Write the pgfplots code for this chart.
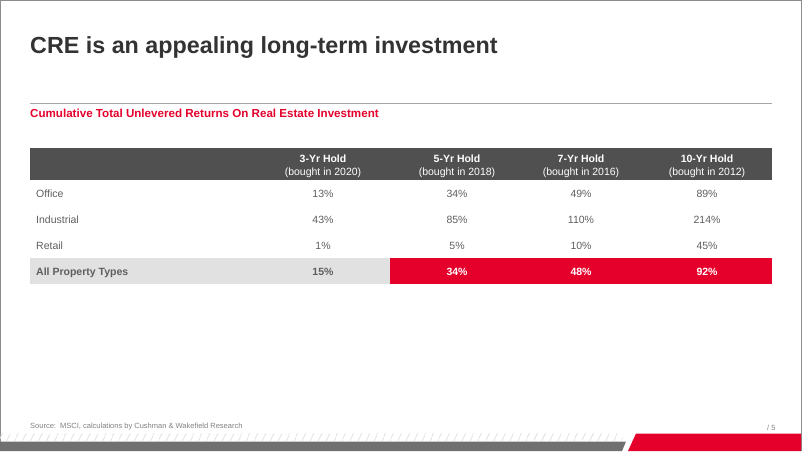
\documentclass[border=0pt]{standalone}
\usepackage{fontspec}
\setmainfont{Liberation Sans}
\usepackage{pgfplots}
\pgfplotsset{compat=1.18}
\usetikzlibrary{patterns.meta}
\definecolor{cwred}{HTML}{E4002B}
\definecolor{hdr}{HTML}{505050}
\definecolor{rowgray}{HTML}{E1E1E1}
\definecolor{txt}{HTML}{5E5E5E}
\definecolor{ttl}{HTML}{333333}
\definecolor{framec}{HTML}{8C8C8C}
\definecolor{footgray}{HTML}{707070}
\newcommand{\bodyfont}{\fontsize{10.5}{12}\selectfont}
\begin{document}
\begin{tikzpicture}
\begin{axis}[name=ax, width=802pt, height=451pt, scale only axis,
  xmin=0, xmax=802, ymin=0, ymax=451, y dir=reverse, hide axis, clip=false,
  /pgf/number format/assume math mode=true]
% slide frame
\addplot[draw=framec, line width=1pt, mark=none] coordinates {(0.5,451) (0.5,0.5) (801.5,0.5) (801.5,451)};
% rule under title
\addplot[draw=gray!70, line width=0.8pt, mark=none] coordinates {(30,103.3) (772,103.3)};
% header band
\addplot[fill=hdr, draw=none, mark=none] coordinates {(30,148) (772,148) (772,180) (30,180)} -- cycle;
% grey total row
\addplot[fill=rowgray, draw=none, mark=none] coordinates {(30,258) (390,258) (390,284) (30,284)} -- cycle;
% red total row
\addplot[fill=cwred, draw=none, mark=none] coordinates {(390,258) (772,258) (772,284) (390,284)} -- cycle;
% footer
\addplot[pattern={Lines[angle=65,distance=6.5pt,line width=0.9pt]}, pattern color=gray!25, draw=none, mark=none] coordinates {(0,433) (624,433) (622,441) (0,441)} -- cycle;
\addplot[fill=footgray, draw=none, mark=none] coordinates {(0,441.5) (626,441.5) (622,451) (0,451)} -- cycle;
\addplot[fill=cwred, draw=none, mark=none] coordinates {(636,433.5) (801,433.5) (801,451) (628,451)} -- cycle;

% table values (regular)
\addplot[draw=none, mark=none, point meta=explicit,
  nodes near coords={\pgfmathprintnumber[fixed,precision=0,assume math mode=true]{\pgfplotspointmeta}\%},
  nodes near coords style={anchor=base, font=\bodyfont, text=txt, inner sep=0pt}]
  table[meta=v] {
x y v
323 197 13
457 197 34
581 197 49
707 197 89
323 223 43
457 223 85
581 223 110
707 223 214
323 249 1
457 249 5
581 249 10
707 249 45
};
% total row
\addplot[draw=none, mark=none, point meta=explicit,
  nodes near coords={\pgfmathprintnumber[fixed,precision=0,assume math mode=true]{\pgfplotspointmeta}\%},
  nodes near coords style={anchor=base, font=\bodyfont\bfseries, text=txt, inner sep=0pt}]
  table[meta=v] {
x y v
323 275 15
};
\addplot[draw=none, mark=none, point meta=explicit,
  nodes near coords={\pgfmathprintnumber[fixed,precision=0,assume math mode=true]{\pgfplotspointmeta}\%},
  nodes near coords style={anchor=base, font=\bodyfont\bfseries, text=white, inner sep=0pt}]
  table[meta=v] {
x y v
457 275 34
581 275 48
707 275 92
};

% texts
\node[anchor=base west, inner sep=0pt, text=ttl, font=\fontsize{23.3}{27}\selectfont\bfseries] at (axis cs:30,53.5) {CRE is an appealing long-term investment};
\node[anchor=base west, inner sep=0pt, text=cwred, font=\fontsize{11.6}{14}\selectfont\bfseries] at (axis cs:30,117.3) {Cumulative Total Unlevered Returns On Real Estate Investment};
\node[anchor=base, inner sep=0pt, text=white, font=\bodyfont\bfseries] at (axis cs:323,162.5) {3-Yr Hold};
\node[anchor=base, inner sep=0pt, text=white, font=\bodyfont] at (axis cs:323,175) {(bought in 2020)};
\node[anchor=base, inner sep=0pt, text=white, font=\bodyfont\bfseries] at (axis cs:457,162.5) {5-Yr Hold};
\node[anchor=base, inner sep=0pt, text=white, font=\bodyfont] at (axis cs:457,175) {(bought in 2018)};
\node[anchor=base, inner sep=0pt, text=white, font=\bodyfont\bfseries] at (axis cs:581,162.5) {7-Yr Hold};
\node[anchor=base, inner sep=0pt, text=white, font=\bodyfont] at (axis cs:581,175) {(bought in 2016)};
\node[anchor=base, inner sep=0pt, text=white, font=\bodyfont\bfseries] at (axis cs:707,162.5) {10-Yr Hold};
\node[anchor=base, inner sep=0pt, text=white, font=\bodyfont] at (axis cs:707,175) {(bought in 2012)};
\node[anchor=base west, inner sep=0pt, text=txt, font=\bodyfont] at (axis cs:36,197) {Office};
\node[anchor=base west, inner sep=0pt, text=txt, font=\bodyfont] at (axis cs:36,223) {Industrial};
\node[anchor=base west, inner sep=0pt, text=txt, font=\bodyfont] at (axis cs:36,249) {Retail};
\node[anchor=base west, inner sep=0pt, text=txt, font=\bodyfont\bfseries] at (axis cs:36,275) {All Property Types};
\node[anchor=base west, inner sep=0pt, text=gray, font=\fontsize{7.5}{9}\selectfont] at (axis cs:30,428) {Source:\ \ MSCI, calculations by Cushman \& Wakefield Research};
\node[anchor=base west, inner sep=0pt, text=gray, font=\fontsize{7.5}{9}\selectfont] at (axis cs:767,430) {/ 5};
\end{axis}
\pgfresetboundingbox
\path[use as bounding box] (ax.south west) rectangle (ax.north east);
\end{tikzpicture}
\end{document}
